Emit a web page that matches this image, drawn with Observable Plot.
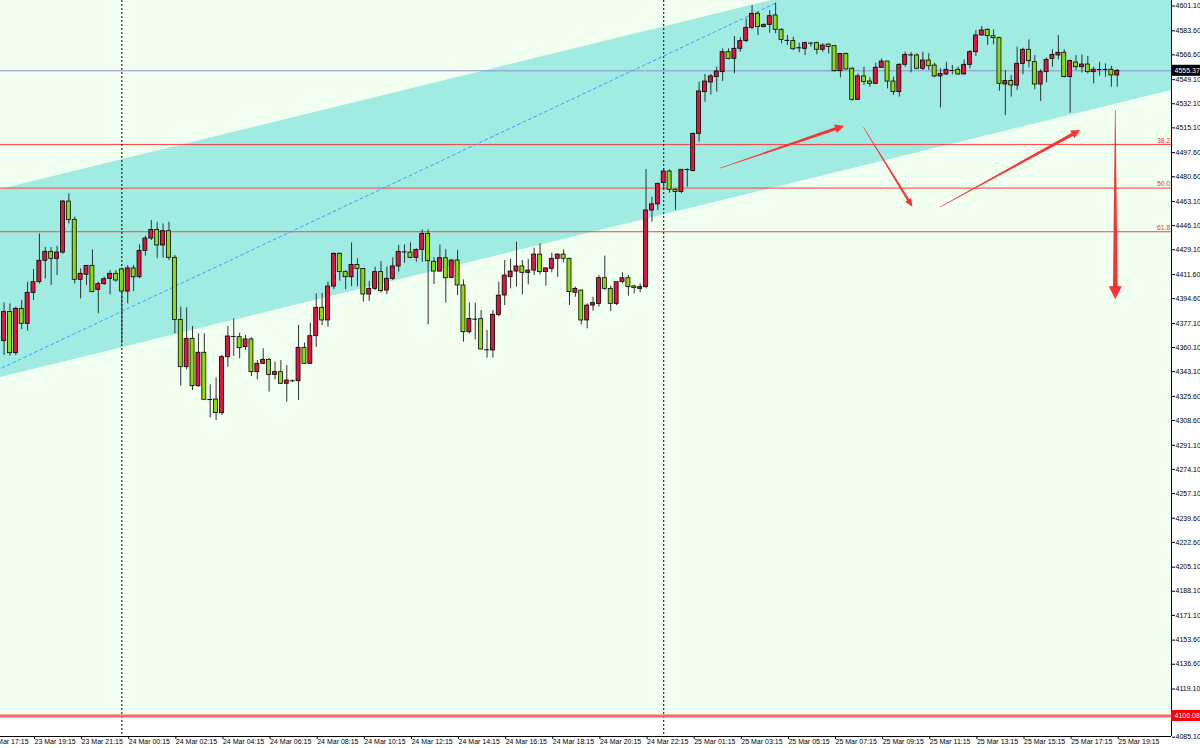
<!DOCTYPE html>
<html><head><meta charset="utf-8">
<script src="https://cdn.jsdelivr.net/npm/d3@7"></script>
<script src="https://cdn.jsdelivr.net/npm/@observablehq/plot@0.6"></script>
<style>
html,body{margin:0;padding:0;background:#fff;}
#chart{width:1200px;height:748px;overflow:hidden;}
</style></head><body><div id="chart"></div>
<script>
// ---- data ----
const firstBar = -5; // bar index of first visible candle (23 Mar 19:15 = index 0)
const opens = [4364.6,4385.1,4356.1,4387.4,4376.8,
4398.7,4406.2,4421.3,4427.6,4422.7,4427.1,4463.1,4450.2,4407.9,4411.4,
4417.7,4400.8,4404.8,4408.6,4412.1,4415.2,4399.6,4415.9,4409.7,4428.3,
4437.0,4443.1,4432.1,4442.2,4423.4,4379.6,4346.2,4366.2,4332.8,4356.4,
4323.4,4323.4,4313.8,4353.3,4367.9,4367.4,4360.3,4365.8,4342.7,4348.6,
4351.4,4340.8,4342.7,4334.5,4336.6,4336.3,4359.9,4348.6,4368.1,4388.1,
4379.2,4403.1,4426.2,4413.3,4409.7,4418.4,4415.6,4397.5,4401.5,4413.3,
4400.3,4408.6,4417.3,4427.6,4427.1,4423.4,4429.0,4440.3,4420.6,4413.7,
4423.1,4409.3,4421.5,4403.9,4370.9,4380.1,4380.1,4358.7,4358.0,4383.0,
4396.8,4409.7,4413.7,4417.3,4412.8,4414.4,4425.7,4413.3,4415.6,4422.7,
4425.7,4422.7,4398.7,4400.3,4379.2,4389.7,4390.9,4409.0,4401.5,4390.9,
4406.2,4409.0,4403.2,4401.5,4402.7,4456.8,4461.1,4476.1,4484.3,4471.4,
4469.8,4485.5,4484.6,4510.9,4540.3,4547.1,4550.9,4554.4,4568.5,4563.8,
4570.9,4576.3,4585.7,4595.6,4586.2,4587.8,4594.4,4584.3,4576.8,4576.3,
4571.6,4570.9,4574.9,4574.9,4570.2,4573.9,4572.8,4555.1,4567.3,4556.8,
4534.9,4551.4,4547.8,4546.2,4557.5,4561.9,4547.8,4540.3,4559.6,4566.6,
4566.2,4556.8,4562.6,4559.1,4551.4,4552.8,4555.6,4556.1,4552.8,4559.6,
4568.5,4580.3,4584.3,4579.8,4578.4,4545.7,4548.1,4545.0,4560.3,4570.2,
4561.5,4545.7,4554.4,4563.8,4566.2,4568.1,4550.9,4561.2,4557.9,4559.8,
4554.4,4556.3,4556.3,4556.1,4552.1];
const highs = [4391.6,4390.9,4388.6,4393.3,4406.2,
4415.2,4440.3,4430.7,4430.7,4431.6,4463.8,4468.5,4452.1,4415.6,4418.0,
4429.0,4406.2,4409.7,4414.4,4414.4,4416.1,4418.0,4418.0,4432.6,4438.7,
4449.7,4448.5,4447.3,4448.5,4425.0,4388.6,4388.1,4374.9,4369.7,4369.7,
4333.8,4338.5,4354.5,4374.9,4380.3,4370.2,4368.6,4366.9,4350.9,4359.2,
4352.1,4349.8,4350.9,4347.4,4337.3,4375.6,4363.2,4377.3,4398.0,4398.4,
4406.2,4426.9,4426.9,4414.4,4433.9,4422.7,4415.6,4406.7,4416.8,4420.8,
4416.8,4423.4,4432.1,4432.5,4433.9,4429.7,4443.1,4443.1,4423.4,4432.5,
4429.0,4422.0,4428.6,4407.8,4391.6,4391.4,4386.2,4372.1,4386.2,4406.2,
4421.5,4422.2,4434.4,4421.5,4422.2,4430.2,4433.3,4416.3,4426.7,4426.2,
4429.0,4423.1,4402.7,4400.3,4390.9,4395.6,4410.9,4424.6,4403.4,4406.2,
4412.8,4410.9,4403.9,4405.0,4485.7,4466.2,4476.1,4486.2,4485.5,4472.1,
4485.5,4486.2,4511.4,4547.4,4552.8,4552.8,4557.9,4570.9,4570.9,4579.6,
4578.6,4592.0,4601.5,4596.7,4588.5,4597.9,4603.1,4585.0,4580.3,4579.1,
4574.9,4575.6,4575.1,4575.6,4574.4,4574.4,4573.2,4567.3,4567.8,4557.5,
4553.2,4557.9,4550.4,4560.8,4563.8,4562.0,4550.9,4560.3,4568.5,4568.1,
4567.3,4568.5,4567.3,4560.8,4556.8,4561.5,4559.1,4557.9,4563.1,4569.7,
4583.8,4586.6,4585.0,4584.3,4579.1,4555.6,4552.1,4572.1,4571.3,4577.2,
4566.2,4556.1,4564.3,4570.2,4580.3,4570.2,4563.1,4566.2,4566.6,4565.5,
4557.9,4561.5,4560.3,4558.6,4556.3];
const lows = [4354.5,4354.0,4354.5,4372.8,4371.6,
4393.3,4405.0,4408.6,4403.9,4410.9,4426.0,4447.3,4405.0,4394.4,4403.9,
4398.7,4383.9,4403.9,4397.3,4406.2,4362.7,4390.9,4399.6,4408.6,4424.6,
4435.6,4422.7,4423.1,4421.5,4369.7,4332.8,4344.3,4329.8,4332.1,4322.7,
4310.5,4308.6,4312.1,4346.2,4353.8,4352.1,4358.0,4339.6,4337.3,4348.1,
4328.6,4337.3,4334.0,4321.5,4335.6,4322.7,4348.1,4348.1,4360.3,4375.6,
4374.4,4401.0,4406.9,4400.8,4403.1,4403.1,4392.1,4392.6,4400.3,4398.4,
4397.5,4407.4,4413.3,4419.6,4422.7,4420.3,4420.3,4376.1,4404.6,4413.3,
4391.6,4408.6,4396.8,4363.9,4369.7,4365.5,4358.5,4352.6,4352.6,4381.8,
4389.7,4401.5,4402.7,4397.3,4404.3,4410.9,4411.4,4403.4,4412.8,4409.7,
4419.9,4389.7,4395.6,4376.1,4373.3,4385.7,4388.6,4400.3,4385.5,4389.7,
4405.0,4396.3,4398.0,4398.7,4401.5,4448.6,4456.8,4470.9,4469.0,4456.8,
4468.6,4473.3,4483.9,4505.0,4533.2,4538.4,4540.3,4547.8,4563.1,4553.2,
4568.5,4575.1,4584.3,4580.3,4585.7,4581.9,4581.5,4574.4,4573.2,4569.7,
4568.1,4566.2,4572.1,4566.6,4568.5,4567.3,4554.4,4550.4,4556.1,4533.9,
4534.4,4545.0,4543.8,4545.5,4557.3,4542.6,4538.0,4536.8,4557.9,4553.9,
4556.1,4555.6,4555.6,4550.4,4529.2,4552.1,4552.5,4552.1,4552.5,4556.8,
4565.5,4579.8,4573.2,4573.7,4541.0,4523.8,4536.8,4541.5,4552.5,4557.5,
4541.9,4533.7,4546.9,4557.9,4563.1,4550.4,4525.5,4555.6,4553.9,4553.2,
4546.2,4551.6,4550.9,4543.8,4543.8];
const closes = [4385.1,4356.1,4387.4,4376.8,4398.7,
4406.2,4421.3,4427.6,4422.7,4427.1,4463.1,4450.2,4407.9,4412.1,4417.7,
4399.2,4404.8,4408.3,4412.1,4407.4,4399.6,4415.9,4409.7,4428.3,4437.0,
4443.1,4432.1,4442.2,4423.4,4379.6,4346.2,4366.2,4332.8,4356.4,4323.2,
4323.4,4313.8,4353.3,4367.9,4367.9,4359.6,4365.8,4342.7,4348.6,4351.4,
4340.8,4342.7,4334.5,4336.8,4336.6,4359.9,4348.6,4368.1,4388.1,4379.2,
4403.1,4426.2,4413.3,4409.7,4418.4,4415.6,4397.5,4401.5,4413.3,4399.9,
4408.6,4417.3,4427.6,4427.6,4423.4,4429.0,4440.3,4421.0,4413.7,4423.1,
4409.0,4421.5,4403.9,4370.9,4380.3,4380.1,4358.7,4358.5,4383.2,4396.7,
4410.9,4413.7,4417.3,4412.8,4414.4,4425.7,4413.3,4415.9,4422.7,4425.7,
4422.7,4399.2,4401.5,4379.2,4389.7,4391.4,4409.0,4401.5,4390.9,4406.2,
4409.0,4402.7,4402.0,4402.7,4456.8,4461.1,4475.6,4484.3,4471.4,4469.8,
4485.5,4485.7,4510.9,4540.8,4547.8,4551.4,4554.9,4568.5,4563.8,4570.9,
4576.3,4585.7,4595.6,4586.2,4587.8,4593.9,4584.3,4577.2,4576.8,4570.6,
4571.6,4574.9,4574.9,4570.2,4573.2,4572.1,4555.1,4567.3,4556.3,4534.9,
4551.4,4547.4,4546.2,4557.5,4561.9,4547.8,4540.3,4559.6,4566.6,4566.6,
4556.8,4562.6,4558.6,4551.4,4553.2,4556.1,4555.6,4552.8,4559.6,4568.5,
4580.3,4583.8,4579.8,4578.4,4546.2,4548.1,4545.0,4560.3,4570.2,4562.2,
4545.7,4554.4,4563.1,4566.6,4568.1,4550.9,4562.2,4557.9,4559.8,4554.4,
4556.1,4556.3,4556.3,4552.1,4555.37];

const timeTickIndex = [-8,0,8,16,24,32,40,48,56,64,72,80,88,96,104,112,120,128,136,144,152,160,168,176,184];
const timeTickLabels = ["23 Mar 17:15","23 Mar 19:15","23 Mar 21:15","24 Mar 00:15","24 Mar 02:15","24 Mar 04:15",
"24 Mar 06:15","24 Mar 08:15","24 Mar 10:15","24 Mar 12:15","24 Mar 14:15","24 Mar 16:15","24 Mar 18:15",
"24 Mar 20:15","24 Mar 22:15","25 Mar 01:15","25 Mar 03:15","25 Mar 05:15","25 Mar 07:15","25 Mar 09:15",
"25 Mar 11:15","25 Mar 13:15","25 Mar 15:15","25 Mar 17:15","25 Mar 19:15"];
const priceTicks = [4601.10,4583.60,4566.60,4549.10,4532.10,4515.10,4497.60,4480.60,4463.10,4446.10,4429.10,
4411.60,4394.60,4377.10,4360.10,4343.10,4325.60,4308.60,4291.10,4274.10,4257.10,4239.60,4222.60,4205.10,
4188.10,4171.10,4153.60,4136.60,4119.10,4085.10];

const separatorBars = [15, 107];           // day separators (24 Mar 00:00, 25 Mar 00:00)
const bidPrice = 4555.37;
const supportPrice = 4100.08;

const channelBars = [-5.6, 193.2];
const channelLower = [4338.9, 4541.5];
const channelUpper = [4471.6, 4674.1];

const fibBars = [-7.2, 126];
const fibPrices = [4342.1, 4603.1];
const fibRatios = [0.382, 0.5, 0.618];
const fibLabels = ["38.2", "50.0", "61.8"];

const arrowFromBar = [116.6, 141.0, 154.0, 183.75];
const arrowFromPrice = [4486.2, 4515.1, 4458.9, 4527.4];
const arrowToBar = [137.7, 149.3, 177.8, 183.75];
const arrowToPrice = [4516.1, 4459.1, 4513.2, 4393.8];

// ---- layout / style ----
const W = 1200, H = 748, mR = 29, mB = 12;
const xMin = -5.603, xMax = 193.21;
const yMin = 4085.6, yMax = 4604.98;
const arrowStyle = [ // [headLength, headHalfWidth, shaftHalfWidth]
  [9, 4.5, 1.6], [8, 3.5, 1.2], [9, 4.5, 1.6], [13, 6.5, 2.3]
];
const upColor = "#E0143C", downColor = "#8EDC0C";

const bars = opens.map((o, k) => ({i: firstBar + k, open: o, high: highs[k], low: lows[k], close: closes[k]}));
const bodies = bars.filter(d => Math.abs(d.close - d.open) >= 0.3);
const dojis = bars.filter(d => Math.abs(d.close - d.open) < 0.3);
const fibLevels = fibRatios.map(r => fibPrices[1] - r * (fibPrices[1] - fibPrices[0]));
const channel = channelBars.map((b, k) => ({i: b, lo: channelLower[k], hi: channelUpper[k]}));
const fibLine = fibBars.map((b, k) => ({i: b, p: fibPrices[k]}));
const xRightEdge = xMax + mR * (xMax - xMin) / (W - mR);

function arrowsMark(index, scales) {
  let sx = scales && typeof scales.x === "function" ? scales.x : null;
  let sy = scales && typeof scales.y === "function" ? scales.y : null;
  if (!sx) { const s = Plot.scale({x: {domain: [xMin, xMax], range: [0, W - mR]}}); sx = v => s.apply(v); }
  if (!sy) { const s = Plot.scale({y: {domain: [yMin, yMax], range: [H - mB, 0]}}); sy = v => s.apply(v); }
  const g = d3.create("svg:g");
  arrowFromBar.forEach((b, k) => {
    const x0 = sx(b), y0 = sy(arrowFromPrice[k]), x1 = sx(arrowToBar[k]), y1 = sy(arrowToPrice[k]);
    const dx = x1 - x0, dy = y1 - y0, L = Math.hypot(dx, dy);
    const ux = dx / L, uy = dy / L, nx = -uy, ny = ux;
    const [hl, hw, sw] = arrowStyle[k];
    const bx = x1 - ux * hl, by = y1 - uy * hl;
    const tw = 0.3;
    const pts = [
      [x0 + nx * tw, y0 + ny * tw], [bx + nx * sw, by + ny * sw], [bx + nx * hw, by + ny * hw],
      [x1, y1], [bx - nx * hw, by - ny * hw], [bx - nx * sw, by - ny * sw], [x0 - nx * tw, y0 - ny * tw]
    ];
    g.append("path").attr("d", "M" + pts.map(p => p[0].toFixed(2) + "," + p[1].toFixed(2)).join("L") + "Z")
      .attr("fill", "#FF3030");
  });
  return g.node();
}

const chart = Plot.plot({
  width: W, height: H,
  marginLeft: 0, marginRight: mR, marginTop: 0, marginBottom: mB,
  x: {domain: [xMin, xMax], axis: null},
  y: {domain: [yMin, yMax], axis: null},
  style: {fontFamily: "'Liberation Sans', Arial, sans-serif", fontSize: "7px", background: "#ffffff", color: "#000", overflow: "visible"},
  marks: [
    Plot.rect([{x1: xMin, x2: xMax, y1: supportPrice, y2: yMax}], {x1: "x1", x2: "x2", y1: "y1", y2: "y2", fill: "#F0FFF0"}),
    Plot.areaY(channel, {x: "i", y1: "lo", y2: "hi", fill: "#A0ECE2", clip: true}),
    Plot.ruleY(fibLevels, {stroke: "#FF4040", strokeWidth: 1}),
    Plot.ruleY([bidPrice], {stroke: "#9090C8", strokeWidth: 1}),
    Plot.ruleX(separatorBars, {stroke: "#000", strokeWidth: 1, strokeDasharray: "2,2"}),
    Plot.line(fibLine, {x: "i", y: "p", stroke: "#3C9CFF", strokeWidth: 1, strokeDasharray: "3,3", clip: true}),
    Plot.ruleX(bars, {x: "i", y1: "low", y2: "high", stroke: "#303030", strokeWidth: 1}),
    Plot.rect(bodies, {x1: d => d.i - 0.34, x2: d => d.i + 0.34, y1: "open", y2: "close",
      fill: d => d.close > d.open ? upColor : downColor, stroke: "#000", strokeWidth: 0.8}),
    Plot.ruleY(dojis, {y: "close", x1: d => d.i - 0.4, x2: d => d.i + 0.4, stroke: "#000", strokeWidth: 1}),
    Plot.ruleY([supportPrice], {stroke: "#FF6464", strokeWidth: 3}),
    Plot.ruleY([yMin], {stroke: "#000", strokeWidth: 1}),
    Plot.ruleX([xMax], {stroke: "#000", strokeWidth: 1}),
    Plot.axisY(priceTicks, {anchor: "right", tickSize: 3, tickPadding: 1, label: null,
      tickFormat: d => d.toFixed(2), textAnchor: "start"}),
    Plot.axisX(timeTickIndex, {anchor: "bottom", tickSize: 3, tickPadding: 0, label: null,
      tickFormat: d => timeTickLabels[timeTickIndex.indexOf(d)], textAnchor: "start", dx: 1}),
    Plot.text(fibLevels, {x: xMax, y: d => d, text: (d, k) => fibLabels[k], textAnchor: "end", dx: -1, dy: -4, fill: "#FF3030"}),
    Plot.rect([bidPrice], {x1: xMax, x2: xRightEdge, y1: d => d - 3.9, y2: d => d + 3.9, fill: "#000"}),
    Plot.text([bidPrice], {x: xMax, y: d => d, text: d => d.toFixed(2), fill: "#fff", textAnchor: "start", dx: 3}),
    Plot.rect([supportPrice], {x1: xMax, x2: xRightEdge, y1: d => d - 3.9, y2: d => d + 3.9, fill: "#FF0000"}),
    Plot.text([supportPrice], {x: xMax, y: d => d, text: d => d.toFixed(2), fill: "#fff", textAnchor: "start", dx: 3}),
    arrowsMark
  ]
});
document.getElementById("chart").appendChild(chart);
</script>
</body></html>
